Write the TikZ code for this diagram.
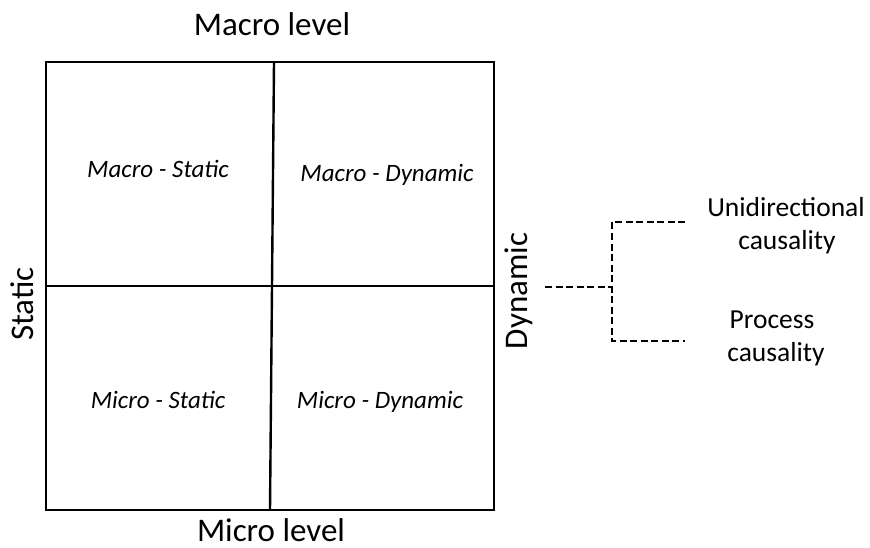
\documentclass[tikz,border=0pt]{standalone}
\usepackage{fontspec}
\setmainfont{Carlito}
\begin{document}
\begin{tikzpicture}[x=1pt,y=-1pt,
  boxline/.style={line width=2.4pt, black},
  dashline/.style={line width=2pt, black, dash pattern=on 7pt off 3.5pt},
  biglbl/.style={anchor=base, inner sep=0pt, font=\fontsize{33}{40}\selectfont},
  quadlbl/.style={anchor=base, inner sep=0pt, font=\fontsize{25}{30}\selectfont\itshape},
  sidelbl/.style={anchor=base, inner sep=0pt, font=\fontsize{27.5}{33}\selectfont}]
\useasboundingbox (0,0) rectangle (870,548);
% grid
\draw[boxline] (46,62) rectangle (494,510);
\coordinate (vt) at (274,62);
\coordinate (vb) at (270,510);
\coordinate (hl) at (46,286);
\coordinate (hr) at (494,286);
\draw[boxline] (vt) -- (vb);
\draw[boxline] (hl) -- (hr);
% axis labels
\node[biglbl] (macro) at (272,36) {Macro level};
\node[biglbl] (micro) at (271,541) {Micro level};
\node[biglbl, rotate=90] (static) at (33,304) {Static};
\node[biglbl, rotate=90] (dynamic) at (527,291) {Dynamic};
% quadrant labels
\node[quadlbl] (ms) at (158,178) {Macro - Static};
\node[quadlbl] (md) at (387,182) {Macro - Dynamic};
\node[quadlbl] (mis) at (158,408) {Micro - Static};
\node[quadlbl] (mid) at (380,408) {Micro - Dynamic};
% right labels
\node[sidelbl] (uni) at (786,217) {Unidirectional};
\node[sidelbl] (uc) at (787,250) {causality};
\node[sidelbl] (proc) at (772,328) {Process};
\node[sidelbl] (pc) at (776,361) {causality};
% dashed tree
\coordinate (d0) at (545,287);
\coordinate (dj) at (612,287);
\coordinate (dt) at (612,222);
\coordinate (db) at (612,341);
\coordinate (dte) at (685,222);
\coordinate (dbe) at (685,341);
\draw[dashline] (d0) -- (dj);
\draw[dashline] (dte) -- (dt) -- (db) -- (dbe);
\end{tikzpicture}
\end{document}
